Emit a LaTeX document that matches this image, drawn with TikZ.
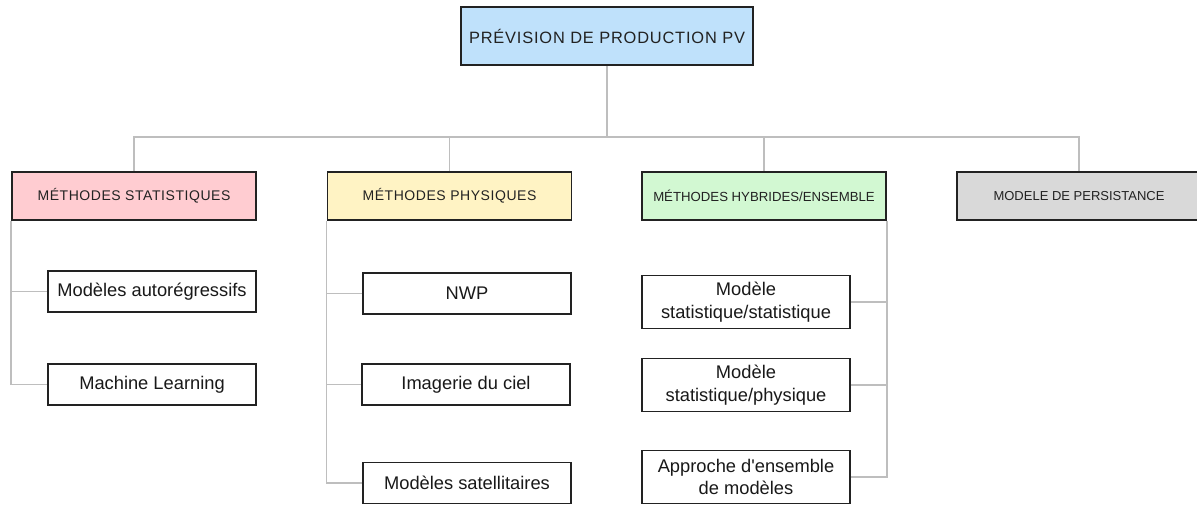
\documentclass[tikz,border=0pt]{standalone}
\usepackage{fontspec}
\setmainfont{Liberation Sans}
\newfontfamily\spacedfont[LetterSpace=5]{Liberation Sans}
\newfontfamily\headfont[LetterSpace=4]{Liberation Sans}
\usepackage{tikz}
\usetikzlibrary{positioning}
\usepackage{xcolor}
\definecolor{rootblue}{RGB}{191,225,251}
\definecolor{statpink}{RGB}{255,204,209}
\definecolor{physyellow}{RGB}{255,243,196}
\definecolor{hybgreen}{RGB}{210,248,210}
\definecolor{persgray}{RGB}{217,217,217}
\definecolor{linkgray}{RGB}{190,190,190}
\definecolor{boxline}{RGB}{34,34,34}
\tikzset{%
	root box/.style={
		draw=boxline,
		line width=1.6pt,
		fill=rootblue,
		inner sep=0pt,
		minimum width=292pt,
		minimum height=58pt,
		text=boxline,
		font=\spacedfont\fontsize{16.4}{19}\selectfont
	},
	method box/.style={
		draw=boxline,
		line width=1.6pt,
		inner sep=0pt,
		minimum width=244pt,
		minimum height=48pt,
		text=boxline,
		font=\headfont\fontsize{14}{17}\selectfont
	},
	model box/.style={
		draw=boxline,
		line width=1.6pt,
		fill=white,
		inner sep=0pt,
		minimum width=208pt,
		minimum height=41pt,
		align=center,
		text=black!90,
		font=\fontsize{18.3}{22.5}\selectfont
	},
	link/.style={
		draw=linkgray,
		line width=1.5pt
	},
}
\begin{document}
\begin{tikzpicture}[x=1pt, y=-1pt]
			
			\useasboundingbox (0,0) rectangle (1197,504);
			
			% Top of the tree
			\node[root box] (root) at (607,36) {PRÉVISION DE PRODUCTION PV};
			
			% Families of methods
			\node[method box, fill=statpink] (stat) at (134,196) {MÉTHODES STATISTIQUES};
			\node[method box, fill=physyellow] (phys) at (449.5,196) {MÉTHODES PHYSIQUES};
			\node[method box, fill=hybgreen, font=\fontsize{13.2}{16}\selectfont] (hyb) at (764,196) {MÉTHODES HYBRIDES/ENSEMBLE};
			\node[method box, fill=persgray, font=\fontsize{13}{16}\selectfont] (pers) at (1079,196) {MODELE DE PERSISTANCE};
			
			% Statistical models
			\node[model box] (ar) at (152,291.5) {Modèles autorégressifs};
			\node[model box] (ml) at (152,384.5) {Machine Learning};
			
			% Physical models
			\node[model box] (nwp) at (467,293.5) {NWP};
			\node[model box] (sky) at (466,384.5) {Imagerie du ciel};
			\node[model box] (sat) at (467,483) {Modèles satellitaires};
			
			% Hybrid models
			\node[model box, minimum height=53pt] (ss) at (746,302) {Modèle\\statistique/statistique};
			\node[model box, minimum height=53pt] (sp) at (746,385) {Modèle\\statistique/physique};
			\node[model box, minimum height=53pt] (ens) at (746,477) {Approche d\textquotesingle ensemble\\de modèles};
			
			% Bus from the root
			\coordinate (bus) at (607,137);
			\draw[link] (root.south) -- (bus);
			\draw[link] (stat.north) |- (bus) -| (pers.north);
			\draw[link] (phys.north) -- (phys.north |- bus);
			\draw[link] (hyb.north) -- (hyb.north |- bus);
			
			% Branches on the left side
			\draw[link] (stat.south west) |- (ml.west);
			\draw[link] (ar.west) -- (ar.west -| stat.south west);
			\draw[link] (phys.south west) |- (sat.west);
			\draw[link] (nwp.west) -- (nwp.west -| phys.south west);
			\draw[link] (sky.west) -- (sky.west -| phys.south west);
			
			% Branches on the right side
			\draw[link] (hyb.south east) |- (ens.east);
			\draw[link] (ss.east) -- (ss.east -| hyb.south east);
			\draw[link] (sp.east) -- (sp.east -| hyb.south east);
			
		\end{tikzpicture}
\end{document}
